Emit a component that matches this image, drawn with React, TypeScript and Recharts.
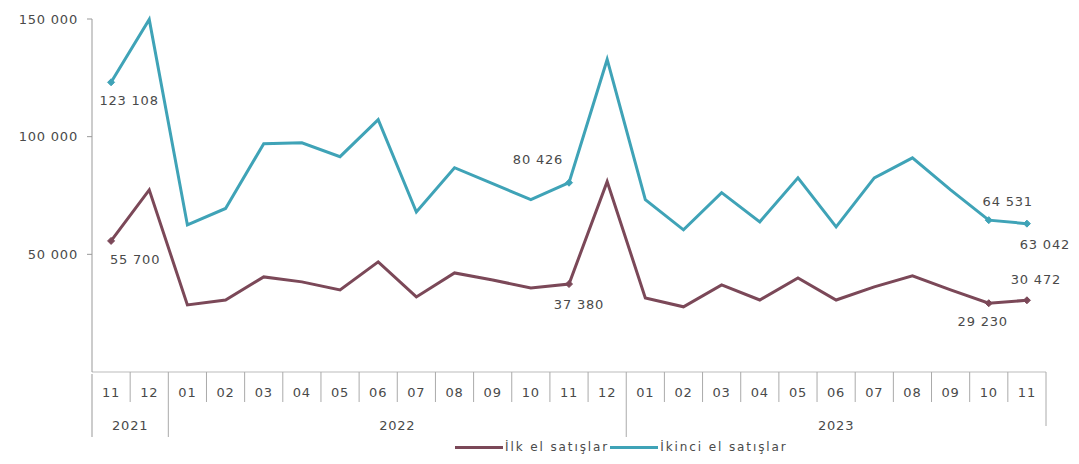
import { LineChart, Line, XAxis, YAxis, LabelList } from "recharts";

const months = [
  "11", "12",
  "01", "02", "03", "04", "05", "06", "07", "08", "09", "10", "11", "12",
  "01", "02", "03", "04", "05", "06", "07", "08", "09", "10", "11",
];
const years = [
  "2021", "2021",
  "2022", "2022", "2022", "2022", "2022", "2022", "2022", "2022", "2022", "2022", "2022", "2022",
  "2023", "2023", "2023", "2023", "2023", "2023", "2023", "2023", "2023", "2023", "2023",
];
// İlk el satışlar
const firstHand = [
  55700, 77400, 28500, 30600, 40400, 38300, 34900, 46800, 31900, 42100, 39100, 35700, 37380,
  80900, 31500, 27700, 37000, 30600, 40000, 30600, 36200, 40900, 34900, 29230, 30472,
];
// İkinci el satışlar
const secondHand = [
  123108, 149800, 62500, 69500, 97000, 97400, 91500, 107200, 68000, 86800, 80000, 73200, 80426,
  132800, 73200, 60400, 76200, 63800, 82500, 61700, 82500, 91000, 77400, 64531, 63042,
];
const yTicks = [50000, 100000, 150000];
const labelledPoints = [0, 12, 23, 24];

const FIRST_COLOR = "#7b4858";
const SECOND_COLOR = "#3fa3b7";
const TEXT = "#4a4a4a";
const FONT = "'DejaVu Sans', sans-serif";
const FONT_SIZE = 13;
const SPACING = 0.8;

// label placement relative to the point (text centre)
const firstOffsets: Record<number, [number, number]> = {
  0: [24, 19],
  12: [10, 20],
  23: [-6, 18],
  24: [9, -21],
};
const secondOffsets: Record<number, [number, number]> = {
  0: [18, 18],
  12: [-31, -23],
  23: [19, -19],
  24: [18, 21],
};

const data = months.map((m, i) => ({
  month: m,
  year: years[i],
  first: firstHand[i],
  second: secondHand[i],
}));

const fmt = (v: number) => String(v).replace(/\B(?=(\d{3})+(?!\d))/g, " ");

const WIDTH = 1079;
const HEIGHT = 464;
const PLOT_LEFT = 92;
const PLOT_RIGHT = 1046;
const BAND = (PLOT_RIGHT - PLOT_LEFT) / months.length;

function MonthTick(props: any) {
  const { x, y, payload } = props;
  const i = payload.index as number;
  const last = i === months.length - 1;
  const yearEnd = last || years[i + 1] !== years[i];
  const yearStart = i === 0 || years[i - 1] !== years[i];
  let yearLabel = null;
  if (yearStart) {
    let n = 0;
    while (i + n < years.length && years[i + n] === years[i]) n++;
    const cx = x - BAND / 2 + (n * BAND) / 2;
    yearLabel = (
      <text
        x={cx}
        y={y + 56}
        textAnchor="middle"
        fontSize={FONT_SIZE}
        letterSpacing={SPACING}
        fill={TEXT}
        fontFamily={FONT}
      >
        {years[i]}
      </text>
    );
  }
  return (
    <g>
      <text
        x={x}
        y={y + 23}
        textAnchor="middle"
        fontSize={FONT_SIZE}
        letterSpacing={SPACING}
        fill={TEXT}
        fontFamily={FONT}
      >
        {payload.value}
      </text>
      <line
        x1={x + BAND / 2}
        x2={x + BAND / 2}
        y1={y - 2}
        y2={yearEnd ? y + (last ? 52 : 63) : y + 28}
        stroke="#aaa"
      />
      {i === 0 && <line x1={x - BAND / 2} x2={x - BAND / 2} y1={y} y2={y + 63} stroke="#999" />}
      {yearLabel}
    </g>
  );
}

function makeDot(color: string) {
  return (p: any) => {
    const { cx, cy, index } = p;
    if (!labelledPoints.includes(index)) return <g key={`d${index}`} />;
    const s = 3.5;
    return (
      <path
        key={`d${index}`}
        d={`M${cx},${cy - s} L${cx + s},${cy} L${cx},${cy + s} L${cx - s},${cy} Z`}
        fill={color}
        stroke={color}
      />
    );
  };
}

function makeLabel(values: number[], offsets: Record<number, [number, number]>) {
  return (p: any) => {
    const { x, y, index } = p;
    const off = offsets[index];
    if (!off) return <g />;
    return (
      <text
        x={Number(x) + off[0]}
        y={Number(y) + off[1]}
        textAnchor="middle"
        dominantBaseline="central"
        fontSize={FONT_SIZE}
        letterSpacing={SPACING}
        fill={TEXT}
        fontFamily={FONT}
      >
        {fmt(values[index])}
      </text>
    );
  };
}

function LegendBox() {
  const item = (color: string, label: string) => (
    <span style={{ display: "inline-flex", alignItems: "center", marginRight: 1 }}>
      <span style={{ display: "inline-block", width: 48, height: 3, background: color, marginRight: 2 }} />
      {label}
    </span>
  );
  return (
    <div
      style={{
        position: "absolute",
        left: 455,
        top: 440,
        fontSize: 12,
        letterSpacing: 1.9,
        color: TEXT,
        fontFamily: FONT,
        display: "flex",
        whiteSpace: "nowrap",
      }}
    >
      {item(FIRST_COLOR, "İlk el satışlar")}
      {item(SECOND_COLOR, "İkinci el satışlar")}
    </div>
  );
}

export default function App() {
  return (
    <div style={{ position: "absolute", left: 0, top: 0, width: WIDTH, height: HEIGHT, background: "#fff" }}>
      <LineChart
        width={WIDTH}
        height={HEIGHT}
        data={data}
        margin={{ top: 19, right: WIDTH - PLOT_RIGHT, left: 0, bottom: 0 }}
      >
        <XAxis
          dataKey="month"
          interval={0}
          tick={<MonthTick />}
          tickLine={false}
          tickSize={0}
          axisLine={{ stroke: "#bbb" }}
          height={92}
          padding={{ left: BAND / 2, right: BAND / 2 }}
        />
        <YAxis
          domain={[0, 150000]}
          ticks={yTicks}
          tickFormatter={fmt}
          width={PLOT_LEFT}
          tickSize={5}
          tickMargin={9}
          axisLine={{ stroke: "#999" }}
          tickLine={{ stroke: "#999" }}
          tick={{ fontSize: FONT_SIZE, fill: TEXT, fontFamily: FONT, letterSpacing: SPACING }}
        />
        <Line
          dataKey="first"
          name="İlk el satışlar"
          stroke={FIRST_COLOR}
          strokeWidth={3}
          dot={makeDot(FIRST_COLOR)}
          activeDot={false}
          isAnimationActive={false}
        >
          <LabelList dataKey="first" content={makeLabel(firstHand, firstOffsets)} />
        </Line>
        <Line
          dataKey="second"
          name="İkinci el satışlar"
          stroke={SECOND_COLOR}
          strokeWidth={3}
          dot={makeDot(SECOND_COLOR)}
          activeDot={false}
          isAnimationActive={false}
        >
          <LabelList dataKey="second" content={makeLabel(secondHand, secondOffsets)} />
        </Line>
      </LineChart>
      <LegendBox />
    </div>
  );
}
